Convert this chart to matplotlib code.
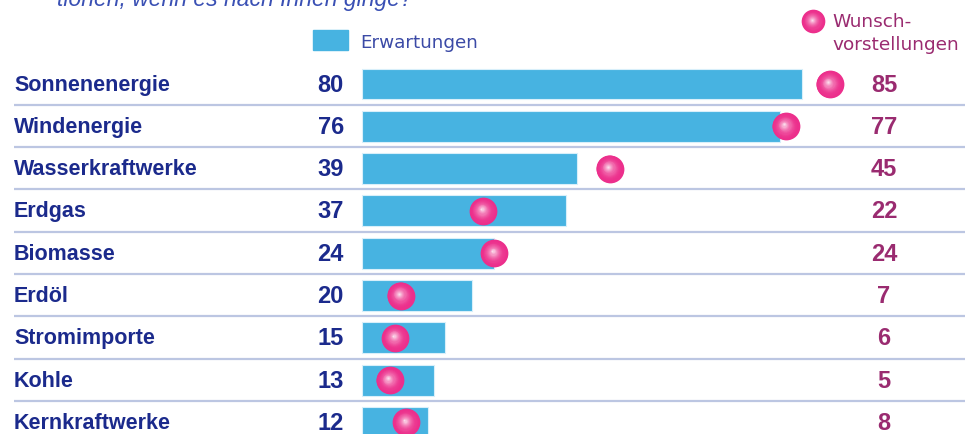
import numpy as np
import matplotlib.pyplot as plt
from matplotlib.colors import to_rgb
from matplotlib.transforms import blended_transform_factory

categories = ["Sonnenenergie", "Windenergie", "Wasserkraftwerke", "Erdgas", "Biomasse",
              "Erdöl", "Stromimporte", "Kohle", "Kernkraftwerke"]
erwartungen = [80, 76, 39, 37, 24, 20, 15, 13, 12]
wunsch = [85, 77, 45, 22, 24, 7, 6, 5, 8]

BAR = "#47b3e1"
PINK = "#ec2f8c"
NAVY = "#1b2a8c"
PURPLE = "#9a2b70"
SEP = "#bcc6e2"
LEG = "#3b4aa6"

W, H = 965, 435
fig = plt.figure(figsize=(W / 100, H / 100), dpi=100)
ax = fig.add_axes([0, 0, 1, 1])
ax.axis("off")

# x: 5.5 px per unit, 0 at pixel 362 ; y: rows 42.3 px apart, row 0 at pixel 85
ax.set_xlim(-362 / 5.5, (W - 362) / 5.5)
ax.set_ylim((H - 85) / 42.3, -85 / 42.3)

y = np.arange(len(categories))
ax.barh(y, erwartungen, height=0.73, color=BAR, edgecolor="#d8effa", linewidth=0.8, zorder=2)


def ball(axis, xs, ys, size, z, dx=0.0, dy=0.0):
    base = np.array(to_rgb(PINK))
    n = 16
    for k in range(n):
        r = 1 - k / n
        t = 0.95 * (1 - r) ** 2.2
        c = base * (1 - t) + t
        axis.scatter(np.asarray(xs) - dx * (1 - r), np.asarray(ys) - dy * (1 - r), s=size * r ** 2,
                     color=c, linewidths=0, zorder=z + k * 0.01)


ball(ax, wunsch, y, 400, 4, dx=0.3, dy=0.05)

sep = blended_transform_factory(fig.transFigure, ax.transData)
for i in y:
    ax.plot([14 / W, 1], [i + 0.49, i + 0.49], color=SEP, lw=1.6, transform=sep, zorder=1,
            solid_capstyle="butt")

fam = ["Liberation Sans", "DejaVu Sans"]
for i, (c, e, w) in enumerate(zip(categories, erwartungen, wunsch)):
    ax.text(14 / W, i, c, transform=sep, ha="left", va="center", fontsize=15.5,
            fontweight="bold", color=NAVY, family=fam)
    ax.text(344 / W, i, str(e), transform=sep, ha="right", va="center", fontsize=17,
            fontweight="bold", color=NAVY, family=fam)
    ax.text(884 / W, i, str(w), transform=sep, ha="center", va="center", fontsize=17,
            fontweight="bold", color=PURPLE, family=fam)

# legend
fig.patches.append(plt.Rectangle((313 / W, 1 - 51 / H), 35 / W, 20 / H, transform=fig.transFigure,
                                 color=BAR, zorder=3))
fig.text(360 / W, 1 - 43 / H, "Erwartungen", ha="left", va="center", fontsize=13.2, color=LEG,
         family=["DejaVu Sans"])

leg = ax.inset_axes([0, 0, 1, 1])
leg.set_xlim(0, W)
leg.set_ylim(H, 0)
leg.axis("off")
ball(leg, [813], [22], 290, 5, dx=1.5, dy=1.5)
fig.text(832 / W, 1 - 22 / H, "Wunsch-", ha="left", va="center", fontsize=13.3, color=PURPLE,
         family=["DejaVu Sans"])
fig.text(832 / W, 1 - 45 / H, "vorstellungen", ha="left", va="center", fontsize=13.3, color=PURPLE,
         family=["DejaVu Sans"])

# clipped heading line at the top
fig.text(57 / W, 1 - 6 / H, "tionen, wenn es nach Ihnen ginge?", ha="left", va="baseline",
         fontsize=16.5, style="italic", color="#3a50b4", family=fam)

fig.savefig("out.png", dpi=100)
